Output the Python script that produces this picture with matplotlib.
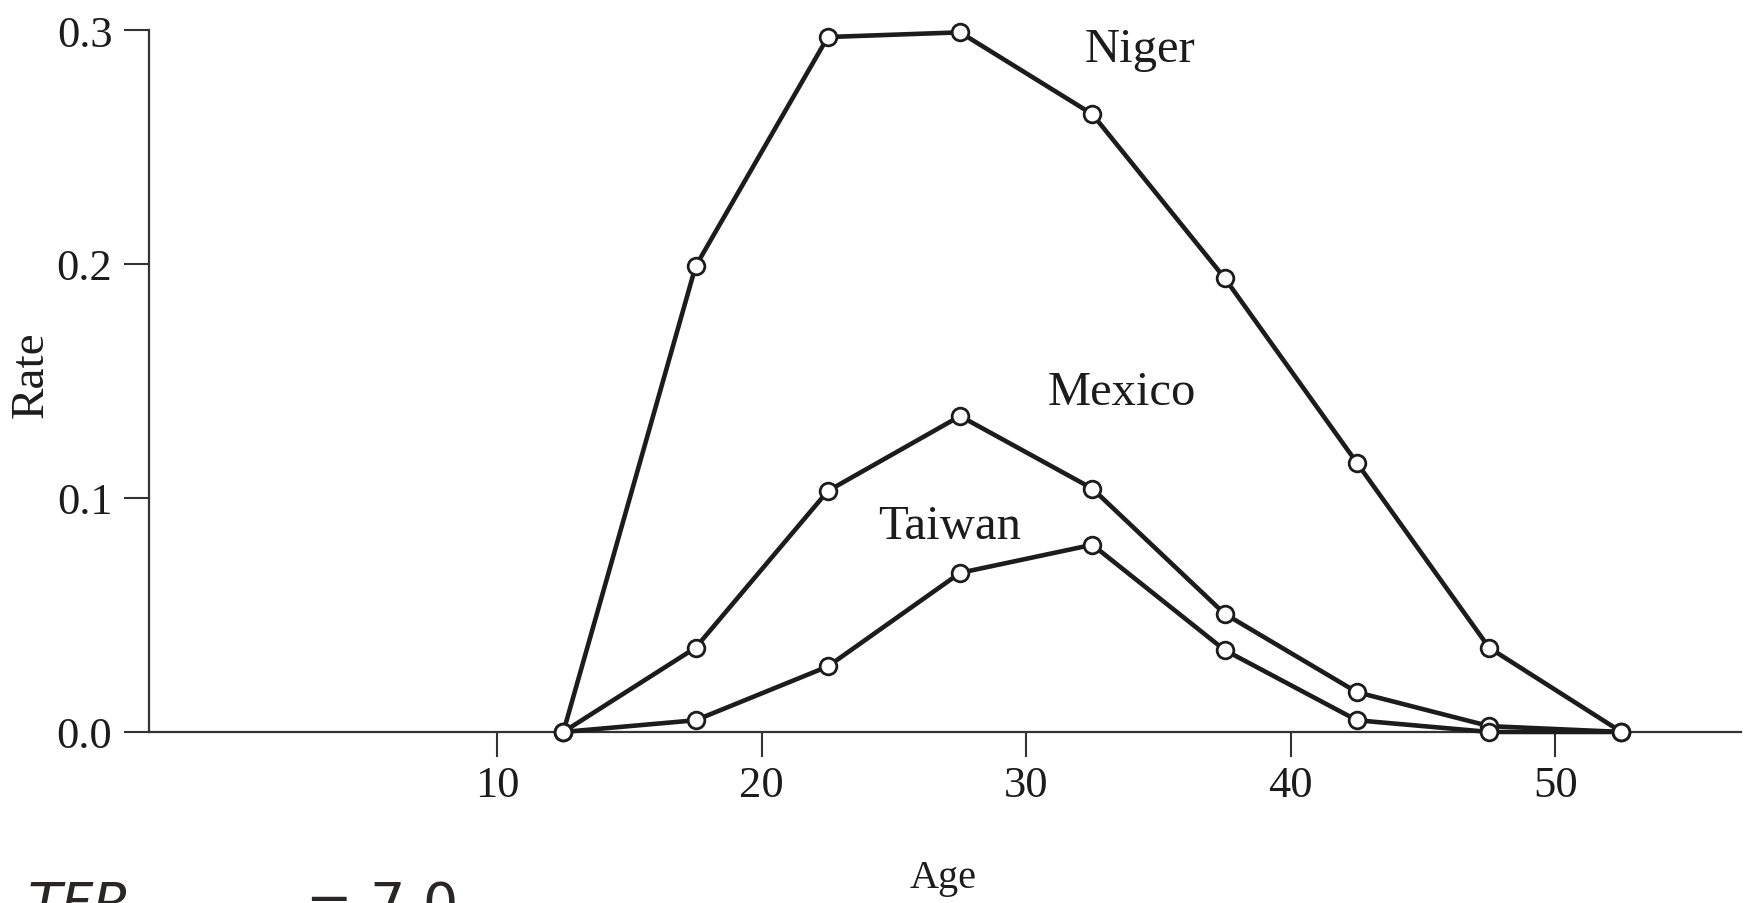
import matplotlib
matplotlib.use("Agg")
import matplotlib.pyplot as plt

# age-specific fertility rates, 5-year age groups (midpoints)
ages = [12.5, 17.5, 22.5, 27.5, 32.5, 37.5, 42.5, 47.5, 52.5]
niger = [0.0, 0.199, 0.297, 0.299, 0.264, 0.194, 0.115, 0.036, 0.0]
mexico = [0.0, 0.036, 0.103, 0.135, 0.104, 0.0505, 0.017, 0.0025, 0.0]
taiwan = [0.0, 0.005, 0.028, 0.068, 0.080, 0.035, 0.005, 0.0, 0.0]

labels = ["Niger", "Mexico", "Taiwan"]
label_pos = [(34.3, 0.292), (33.6, 0.1455), (27.1, 0.088)]

xticks = [10, 20, 30, 40, 50]
yticks = [0.0, 0.1, 0.2, 0.3]

SERIF = ["Liberation Serif", "DejaVu Serif"]
INK = "#1c1c1c"

fig = plt.figure(figsize=(17.5, 9.04), dpi=100)
ax = fig.add_axes([0.0849, 0.1892, 0.9101, 0.7765])

for ys in (niger, mexico, taiwan):
    ax.plot(ages, ys, color=INK, lw=3.3, marker="o", ms=12,
            mfc="white", mec=INK, mew=2, clip_on=False, zorder=3)

for name, (x, y) in zip(labels, label_pos):
    ax.text(x, y, name, family=SERIF, fontsize=35, color=INK,
            ha="center", va="center")

ax.set_xlim(-3.18, 57.03)
ax.set_ylim(0, 0.3)
ax.set_xticks(xticks)
ax.set_yticks(yticks)
ax.set_yticklabels([f"{v:.1f}" for v in yticks])
for s in ("top", "right"):
    ax.spines[s].set_visible(False)
for s in ("left", "bottom"):
    ax.spines[s].set_linewidth(1.6)
    ax.spines[s].set_color("#333333")
ax.tick_params(length=18, width=1.5, color="#333333", labelsize=32,
               labelcolor=INK)
ax.tick_params(axis="y", pad=8)
ax.tick_params(axis="x", pad=6)
for lab in ax.get_xticklabels() + ax.get_yticklabels():
    lab.set_family(SERIF)

fig.text(0.0177, 0.586, "Rate", family=SERIF, fontsize=34, color=INK,
         rotation=90, ha="center", va="center")
fig.text(0.539, 0.028, "Age", family=SERIF, fontsize=29, color=INK,
         ha="center", va="center")

# caption cut off at the bottom edge, as in the original
fig.text(0.016, -0.02, "TFR", family="DejaVu Sans", style="italic",
         fontsize=40, color="#2a2626", ha="left", va="baseline")
fig.text(0.08, -0.06, "Niger", family="DejaVu Sans", style="italic",
         fontsize=28, color="#2a2626", ha="left", va="baseline")
fig.text(0.175, -0.02, "= 7.0", family="DejaVu Sans",
         fontsize=40, color="#2a2626", ha="left", va="baseline")

fig.savefig("out.png", dpi=100)
